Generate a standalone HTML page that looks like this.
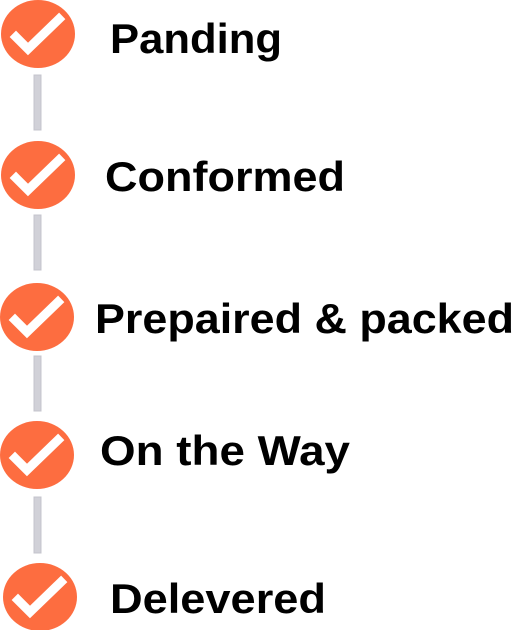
<!DOCTYPE html>
<html><head><style>
html,body{margin:0;padding:0;background:#fff;width:514px;height:630px;overflow:hidden}
text{font-family:"Liberation Sans",sans-serif;font-weight:bold;font-size:42px;fill:#000}
</style></head><body>
<svg width="514" height="630" xmlns="http://www.w3.org/2000/svg">
<defs>
<g id="c">
<ellipse cx="0" cy="0" rx="37" ry="34" fill="#fd6d40"/>
<path d="M-22,3 L-10,15 L21,-15" stroke="#fff" stroke-width="9" fill="none" stroke-linecap="square"/>
</g>
</defs>
<g fill="#d1d1d8" stroke="#c4c4cc" stroke-width="1">
<rect x="34" y="75" width="7" height="55"/>
<rect x="34" y="215" width="7" height="55"/>
<rect x="34" y="356" width="7" height="55"/>
<rect x="34" y="497" width="7" height="56"/>
</g>
<use href="#c" x="38" y="34"/>
<use href="#c" x="38" y="175"/>
<use href="#c" x="37" y="317"/>
<use href="#c" x="37" y="455"/>
<use href="#c" x="40" y="597"/>
<text x="110" y="53" textLength="172" lengthAdjust="spacingAndGlyphs">Panding</text>
<text x="105" y="191" textLength="240" lengthAdjust="spacingAndGlyphs">Conformed</text>
<text x="95" y="333" textLength="419" lengthAdjust="spacingAndGlyphs">Prepaired &amp; packed</text>
<text x="100" y="465" textLength="250" lengthAdjust="spacingAndGlyphs">On the Way</text>
<text x="110" y="613" textLength="216" lengthAdjust="spacingAndGlyphs">Delevered</text>
</svg>
</body></html>
